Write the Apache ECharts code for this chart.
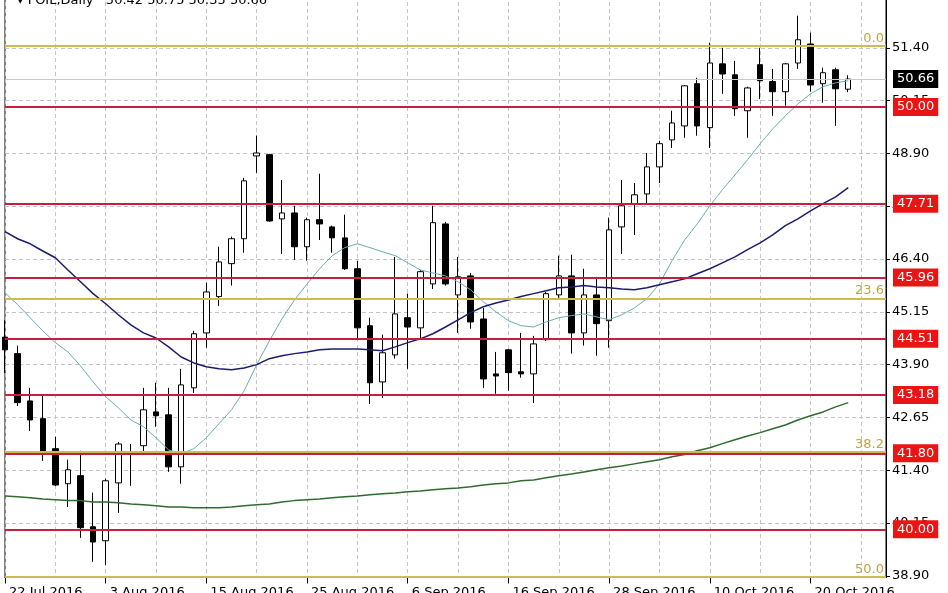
<!DOCTYPE html>
<html>
<head>
<meta charset="utf-8">
<script src="https://cdn.jsdelivr.net/npm/echarts@6/dist/echarts.min.js"></script>
<style>
  html, body { margin: 0; padding: 0; background: #fff; }
  #chart { width: 948px; height: 593px; }
</style>
</head>
<body>
<div id="chart"></div>
<script>
// trading days, last three are empty space on the right
const dates = [
  '22 Jul 2016', '25 Jul 2016', '26 Jul 2016', '27 Jul 2016', '28 Jul 2016', '29 Jul 2016', '1 Aug 2016', '2 Aug 2016',
  '3 Aug 2016', '4 Aug 2016', '5 Aug 2016', '8 Aug 2016', '9 Aug 2016', '10 Aug 2016', '11 Aug 2016', '12 Aug 2016',
  '15 Aug 2016', '16 Aug 2016', '17 Aug 2016', '18 Aug 2016', '19 Aug 2016', '22 Aug 2016', '23 Aug 2016', '24 Aug 2016',
  '25 Aug 2016', '26 Aug 2016', '29 Aug 2016', '30 Aug 2016', '31 Aug 2016', '1 Sep 2016', '2 Sep 2016', '5 Sep 2016',
  '6 Sep 2016', '7 Sep 2016', '8 Sep 2016', '9 Sep 2016', '12 Sep 2016', '13 Sep 2016', '14 Sep 2016', '15 Sep 2016',
  '16 Sep 2016', '19 Sep 2016', '20 Sep 2016', '21 Sep 2016', '22 Sep 2016', '23 Sep 2016', '26 Sep 2016', '27 Sep 2016',
  '28 Sep 2016', '29 Sep 2016', '30 Sep 2016', '3 Oct 2016', '4 Oct 2016', '5 Oct 2016', '6 Oct 2016', '7 Oct 2016',
  '10 Oct 2016', '11 Oct 2016', '12 Oct 2016', '13 Oct 2016', '14 Oct 2016', '17 Oct 2016', '18 Oct 2016', '19 Oct 2016',
  '20 Oct 2016', '21 Oct 2016', '24 Oct 2016', '25 Oct 2016', '26 Oct 2016', '27 Oct 2016', '28 Oct 2016'
]

const opens = [
  44.55, 44.16, 43.04, 42.62, 41.91, 41.08, 41.27, 40.06, 39.73, 41.10, 41.79, 41.98, 42.78, 42.71, 41.48, 43.35,
  44.65, 45.51, 46.29, 46.88, 48.84, 48.87, 47.35, 47.49, 46.69, 47.33, 47.16, 46.90, 46.17, 44.82, 43.49, 44.13,
  45.01, 44.77, 45.81, 47.23, 45.55, 46.00, 44.98, 43.68, 44.25, 43.73, 43.68, 44.49, 45.55, 46.00, 44.65, 45.55,
  44.94, 47.16, 47.71, 47.94, 48.58, 49.22, 49.55, 50.55, 49.51, 51.02, 50.76, 49.91, 51.00, 50.60, 50.36, 51.04,
  51.49, 50.55, 50.88, 50.42
]
const highs = [
  44.95, 44.35, 43.35, 43.16, 42.19, 41.65, 41.86, 40.87, 41.20, 42.07, 42.02, 43.35, 43.47, 43.35, 43.80, 44.70,
  45.84, 46.69, 46.93, 48.32, 49.32, 48.89, 48.27, 47.66, 47.38, 48.42, 47.19, 47.45, 46.36, 45.01, 44.61, 46.45,
  45.58, 46.14, 47.66, 47.28, 46.45, 46.07, 45.24, 44.20, 44.27, 44.65, 44.58, 45.62, 46.48, 46.50, 46.17, 45.93,
  47.38, 48.27, 48.20, 48.91, 49.20, 49.91, 50.52, 50.69, 51.52, 51.40, 51.09, 50.48, 51.40, 50.90, 51.04, 52.16,
  51.76, 50.93, 50.93, 50.75
]
const lows = [
  43.70, 42.92, 42.33, 41.62, 41.03, 40.53, 39.80, 39.23, 39.16, 40.39, 41.03, 41.79, 42.43, 41.36, 41.08, 43.23,
  44.30, 45.29, 45.77, 46.55, 48.44, 47.28, 46.52, 46.38, 46.36, 46.85, 46.55, 46.14, 44.49, 42.97, 43.11, 44.04,
  43.80, 44.53, 45.69, 45.77, 44.65, 44.75, 43.35, 43.21, 43.28, 43.59, 42.99, 44.46, 45.48, 44.16, 44.35, 44.11,
  44.30, 46.52, 46.97, 47.71, 48.20, 49.03, 49.27, 49.32, 49.03, 50.31, 49.79, 49.27, 50.19, 49.79, 50.03, 50.90,
  50.36, 50.10, 49.55, 50.35
]
const closes = [
  44.25, 43.00, 42.59, 41.84, 41.05, 41.41, 40.04, 39.70, 41.15, 42.02, 41.84, 42.83, 42.69, 41.48, 43.42, 44.63,
  45.62, 46.33, 46.88, 48.25, 48.91, 47.30, 47.49, 46.69, 47.33, 47.23, 46.90, 46.17, 44.77, 43.47, 44.18, 45.10,
  44.79, 46.10, 47.26, 45.81, 45.98, 44.91, 43.56, 43.63, 43.71, 43.68, 44.39, 45.58, 46.00, 44.65, 45.55, 44.87,
  47.09, 47.66, 47.92, 48.58, 49.13, 49.62, 50.50, 49.55, 51.04, 50.78, 49.96, 50.45, 50.62, 50.36, 51.02, 51.59,
  50.52, 50.81, 50.43, 50.66
]

// moving averages
const maFast = [
  45.60, 45.32, 45.01, 44.70, 44.42, 44.20, 43.87, 43.49, 43.14, 42.88, 42.59, 42.43, 42.17, 41.88, 41.79, 41.91,
  42.17, 42.50, 42.83, 43.28, 43.90, 44.46, 44.98, 45.43, 45.81, 46.17, 46.48, 46.67, 46.76, 46.67, 46.57, 46.48,
  46.31, 46.14, 46.07, 46.00, 45.86, 45.67, 45.39, 45.15, 44.94, 44.82, 44.79, 44.91, 45.01, 45.06, 45.10, 45.03,
  44.96, 45.08, 45.24, 45.46, 45.81, 46.36, 46.85, 47.23, 47.66, 48.04, 48.39, 48.75, 49.13, 49.48, 49.79, 50.07,
  50.31, 50.48, 50.57, 50.62
]
const maMid = [
  47.05, 46.88, 46.76, 46.59, 46.43, 46.14, 45.86, 45.58, 45.34, 45.08, 44.84, 44.65, 44.53, 44.32, 44.08, 43.94,
  43.85, 43.80, 43.78, 43.82, 43.90, 44.04, 44.11, 44.16, 44.20, 44.25, 44.27, 44.27, 44.27, 44.25, 44.23, 44.32,
  44.42, 44.51, 44.63, 44.79, 44.96, 45.13, 45.27, 45.36, 45.43, 45.51, 45.58, 45.65, 45.72, 45.74, 45.77, 45.74,
  45.72, 45.69, 45.67, 45.72, 45.79, 45.86, 45.93, 46.05, 46.17, 46.31, 46.45, 46.62, 46.78, 46.97, 47.19, 47.35,
  47.54, 47.71, 47.87, 48.09
]
const maSlow = [
  40.79, 40.77, 40.75, 40.72, 40.70, 40.68, 40.68, 40.65, 40.65, 40.63, 40.60, 40.58, 40.56, 40.53, 40.53, 40.51,
  40.51, 40.51, 40.53, 40.56, 40.58, 40.60, 40.65, 40.68, 40.70, 40.72, 40.75, 40.77, 40.79, 40.82, 40.84, 40.86,
  40.89, 40.91, 40.94, 40.96, 40.98, 41.01, 41.05, 41.08, 41.10, 41.15, 41.17, 41.22, 41.27, 41.31, 41.36, 41.41,
  41.46, 41.50, 41.55, 41.60, 41.65, 41.72, 41.77, 41.86, 41.93, 42.03, 42.12, 42.21, 42.29, 42.38, 42.47, 42.59,
  42.69, 42.78, 42.90, 43.00
]

const levels = [50.00, 47.71, 45.96, 44.51, 43.18, 41.80, 40.00]
const fibValues = [51.45, 45.47, 41.83, 38.87]
const fibLabels = ['0.0', '23.6', '38.2', '50.0']
const lastPrice = 50.66
const yTicks = [38.90, 40.15, 41.40, 42.65, 43.90, 45.15, 46.40, 47.65, 48.90, 50.15, 51.40, 52.65]
const titleText = '\u25BE FOIL,Daily   50.42 50.75 50.35 50.66'

const FONT = 'DejaVu Sans'
const RED = '#c4203e'
const GOLD = '#cbbd52'

const candles = opens.map((o, i) => [o, closes[i], lows[i], highs[i]])

const boxLabel = (text, bg) => ({
  show: true,
  position: 'end',
  formatter: text,
  color: '#fff',
  backgroundColor: bg,
  padding: [3, 4, 2, 4],
  fontSize: 13,
  fontFamily: FONT,
  distance: 7,
})

const markData = [
  ...levels.map((v) => ({
    yAxis: v,
    lineStyle: { color: RED, width: 2, type: 'solid' },
    label: boxLabel(v.toFixed(2), '#ea1414'),
  })),
  ...fibValues.map((v, i) => ({
    yAxis: v,
    lineStyle: { color: GOLD, width: 2, type: 'solid' },
    label: {
      show: true,
      position: 'insideEndTop',
      formatter: fibLabels[i],
      color: '#b9a845',
      fontSize: 13,
      fontFamily: FONT,
      distance: [2, 1],
    },
  })),
  {
    yAxis: lastPrice,
    lineStyle: { color: '#c8c8c8', width: 1, type: 'solid' },
    label: boxLabel(lastPrice.toFixed(2), '#000'),
  },
]

const chart = echarts.init(document.getElementById('chart'), null, { renderer: 'canvas' })

chart.setOption({
  animation: false,
  backgroundColor: '#fff',
  textStyle: { fontFamily: FONT },
  title: {
    text: titleText,
    left: 12,
    top: -11,
    textStyle: { fontSize: 13, fontWeight: 'normal', color: '#000', fontFamily: FONT },
  },
  grid: {
    left: 5,
    right: 62,
    top: -5,
    bottom: 15.5,
    outerBoundsMode: 'none',
    containLabel: false,
    show: true,
    borderColor: '#000',
    borderWidth: 1,
    backgroundColor: 'transparent',
  },
  xAxis: {
    type: 'category',
    data: dates,
    boundaryGap: false,
    axisLine: { lineStyle: { color: '#000', width: 1 } },
    axisTick: { interval: 7, length: 6, lineStyle: { color: '#000' } },
    axisLabel: {
      interval: 7,
      align: 'left',
      padding: [0, 0, 0, 4],
      margin: 9,
      color: '#000',
      fontSize: 13,
      fontFamily: FONT,
    },
    splitLine: {
      show: true,
      interval: 3,
      lineStyle: { color: '#c4c4c4', type: [4, 3], width: 1 },
    },
  },
  yAxis: {
    type: 'value',
    position: 'right',
    min: 38.86,
    max: 52.65,
    axisLine: { show: true, lineStyle: { color: '#000', width: 1 } },
    axisTick: { show: true, length: 4, customValues: yTicks, lineStyle: { color: '#000' } },
    axisLabel: {
      customValues: yTicks,
      formatter: (v) => Number(v).toFixed(2),
      color: '#000',
      fontSize: 13,
      fontFamily: FONT,
      margin: 6,
    },
    splitLine: {
      show: true,
      lineStyle: { color: '#c4c4c4', type: [4, 3], width: 1 },
    },
  },
  series: [
    {
      name: 'FOIL',
      type: 'candlestick',
      data: candles,
      barWidth: 6,
      clip: true,
      itemStyle: {
        color: '#fff',
        color0: '#000',
        borderColor: '#000',
        borderColor0: '#000',
        borderWidth: 1,
      },
      z: 2,
    },
    {
      name: 'levels',
      type: 'line',
      data: [],
      silent: true,
      z: 3,
      markLine: {
        silent: true,
        symbol: ['none', 'none'],
        animation: false,
        data: markData,
      },
    },
    {
      name: 'MA fast',
      type: 'line',
      data: maFast,
      showSymbol: false,
      smooth: false,
      lineStyle: { color: '#68aeae', width: 1 },
      z: 4,
    },
    {
      name: 'MA mid',
      type: 'line',
      data: maMid,
      showSymbol: false,
      lineStyle: { color: '#1c1c6e', width: 1.5 },
      z: 4,
    },
    {
      name: 'MA slow',
      type: 'line',
      data: maSlow,
      showSymbol: false,
      lineStyle: { color: '#2f6a2f', width: 1.5 },
      z: 4,
    },
  ],
})
</script>
</body>
</html>
